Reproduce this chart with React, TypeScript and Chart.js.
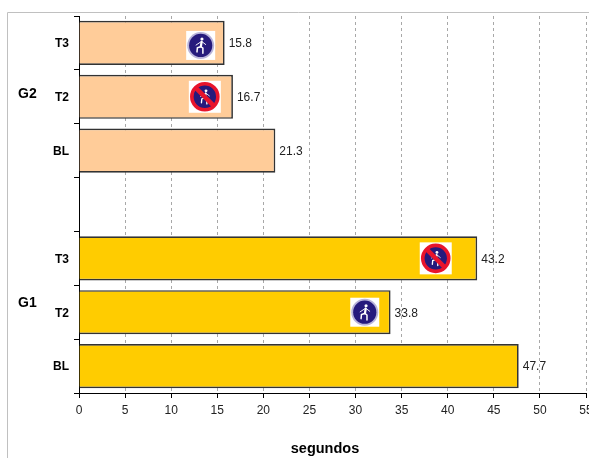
import React, { useEffect, useRef } from "react";
import { Chart, registerables } from "chart.js";

Chart.register(...registerables);

// Conditions from top to bottom; the empty slot separates the two groups.
const categories = ["T3", "T2", "BL", "", "T3", "T2", "BL"];
const seconds = [15.8, 16.7, 21.3, null, 43.2, 33.8, 47.7];
const barColors = ["#FFCC99", "#FFCC99", "#FFCC99", "#FFFFFF", "#FFCC00", "#FFCC00", "#FFCC00"];
const groupNames = ["G2", "G1"];
const groupSlots = [0.95, 4.83];
const tickStep = 5;
const axisMax = 55;
const axisTitle = "segundos";

// Road sign per slot, with the time value its centre sits on.
const signKinds = ["walk", "noWalk", null, null, "noWalk", "walk", null];
const signAt = [13.2, 13.65, null, null, 38.7, 31, null];

const FONT = "'Liberation Sans', Arial, sans-serif";

function drawFigure(ctx: CanvasRenderingContext2D, cx: number, cy: number, r: number) {
  const u = r / 13;
  ctx.strokeStyle = "#FFFFFF";
  ctx.fillStyle = "#FFFFFF";
  ctx.lineCap = "round";
  ctx.beginPath();
  ctx.arc(cx + 1.4 * u, cy - 7 * u, 1.7 * u, 0, Math.PI * 2);
  ctx.fill();
  ctx.lineWidth = 2.4 * u;
  ctx.beginPath();
  ctx.moveTo(cx + 1 * u, cy - 3.8 * u);
  ctx.lineTo(cx + 0.2 * u, cy + 1.2 * u);
  ctx.stroke();
  ctx.lineWidth = 1 * u;
  ctx.beginPath();
  ctx.moveTo(cx - 5 * u, cy - 0.4 * u);
  ctx.lineTo(cx + 1 * u, cy - 4.4 * u);
  ctx.lineTo(cx + 5.4 * u, cy - 1 * u);
  ctx.stroke();
  ctx.lineWidth = 1.6 * u;
  ctx.beginPath();
  ctx.moveTo(cx - 0.2 * u, cy + 1.4 * u);
  ctx.lineTo(cx - 3.6 * u, cy + 2.6 * u);
  ctx.lineTo(cx - 4 * u, cy + 7 * u);
  ctx.moveTo(cx + 0.4 * u, cy + 1.4 * u);
  ctx.lineTo(cx + 2.4 * u, cy + 3 * u);
  ctx.lineTo(cx + 2.4 * u, cy + 8.4 * u);
  ctx.stroke();
}

function drawSign(ctx: CanvasRenderingContext2D, kind: string, cx: number, cy: number) {
  ctx.save();
  const half = kind === "walk" ? 14.5 : 16;
  ctx.fillStyle = "#FFFFFF";
  ctx.fillRect(cx - half, cy - half, half * 2, half * 2);
  if (kind === "walk") {
    ctx.fillStyle = "#B9B4DA";
    ctx.beginPath();
    ctx.arc(cx, cy, 13.5, 0, Math.PI * 2);
    ctx.fill();
    ctx.fillStyle = "#261A7C";
    ctx.beginPath();
    ctx.arc(cx, cy, 11.6, 0, Math.PI * 2);
    ctx.fill();
    drawFigure(ctx, cx, cy, 12);
  } else {
    ctx.fillStyle = "#261A7C";
    ctx.beginPath();
    ctx.arc(cx, cy, 12, 0, Math.PI * 2);
    ctx.fill();
    drawFigure(ctx, cx, cy, 11);
    ctx.strokeStyle = "#E8142C";
    ctx.lineCap = "butt";
    ctx.lineWidth = 3.6;
    ctx.beginPath();
    ctx.arc(cx, cy, 13, 0, Math.PI * 2);
    ctx.stroke();
    ctx.lineWidth = 4.6;
    ctx.beginPath();
    ctx.moveTo(cx - 9.5, cy - 9.5);
    ctx.lineTo(cx + 9.5, cy + 9.5);
    ctx.stroke();
  }
  ctx.restore();
}

// Outer frame, value labels, group labels, axis title and the signs on the bars.
const decorations = {
  id: "decorations",
  beforeDraw(chart: any) {
    const { ctx } = chart;
    ctx.save();
    ctx.strokeStyle = "#C0C0C0";
    ctx.lineWidth = 1;
    ctx.beginPath();
    ctx.moveTo(7.5, chart.height);
    ctx.lineTo(7.5, 12.5);
    ctx.lineTo(chart.width, 12.5);
    ctx.stroke();
    ctx.restore();
  },
  afterDatasetsDraw(chart: any) {
    const { ctx, scales } = chart;
    const x = scales.x;
    const y = scales.y;
    ctx.save();
    ctx.textBaseline = "middle";
    seconds.forEach((value, i) => {
      if (value === null) return;
      ctx.font = `12px ${FONT}`;
      ctx.fillStyle = "#222222";
      ctx.textAlign = "left";
      ctx.fillText(value.toFixed(1), x.getPixelForValue(value) + 4, y.getPixelForValue(i) + 1);
      const kind = signKinds[i];
      const at = signAt[i];
      if (kind && at !== null) {
        const drop = i === 0 ? 2.5 : 0;
        drawSign(ctx, kind, x.getPixelForValue(at), y.getPixelForValue(i) + drop);
      }
    });
    ctx.font = `bold 14px ${FONT}`;
    ctx.fillStyle = "#000000";
    ctx.textAlign = "left";
    groupNames.forEach((name, i) => {
      ctx.fillText(name, 18, y.getPixelForValue(groupSlots[i]));
    });
    ctx.font = `bold 14.5px ${FONT}`;
    ctx.textAlign = "center";
    ctx.fillText(axisTitle, 325, 449);
    ctx.restore();
  },
};

export default function App() {
  const ref = useRef<HTMLCanvasElement>(null);
  useEffect(() => {
    document.body.style.margin = "0";
    const chart = new Chart(ref.current!, {
      type: "bar",
      data: {
        labels: categories,
        datasets: [
          {
            data: seconds,
            backgroundColor: barColors,
            borderColor: "#333333",
            borderWidth: 1.7,
            categoryPercentage: 1,
            barPercentage: 0.82,
          },
        ],
      },
      options: {
        indexAxis: "y",
        responsive: false,
        animation: false,
        layout: { padding: { top: 16, right: 3, left: 0, bottom: 0 } },
        plugins: { legend: { display: false }, tooltip: { enabled: false } },
        scales: {
          x: {
            min: 0,
            max: axisMax,
            ticks: {
              stepSize: tickStep,
              maxRotation: 0,
              color: "#222222",
              font: { family: FONT, size: 12 },
              padding: 5,
            },
            grid: {
              color: "#A8A8A8",
              tickColor: "#000000",
              tickBorderDash: [],
              tickLength: 5,
            } as any,
            border: { color: "#000000", dash: [3, 3], display: true } as any,
            afterFit(scale: any) {
              scale.height = 65;
              scale.paddingRight = 0;
              scale.paddingLeft = 0;
            },
          },
          y: {
            ticks: {
              color: "#000000",
              font: { family: FONT, size: 12, weight: "bold" },
              padding: 5,
              labelOffset: 1,
            },
            grid: {
              offset: true,
              drawOnChartArea: false,
              color: "#000000",
              tickLength: 5,
            },
            border: { color: "#000000" },
            afterFit(scale: any) {
              scale.width = 79;
              scale.paddingTop = 0;
              scale.paddingBottom = 0;
            },
          },
        },
      },
      plugins: [decorations],
    });
    return () => chart.destroy();
  }, []);
  return <canvas ref={ref} width={589} height={458} style={{ display: "block" }} />;
}
